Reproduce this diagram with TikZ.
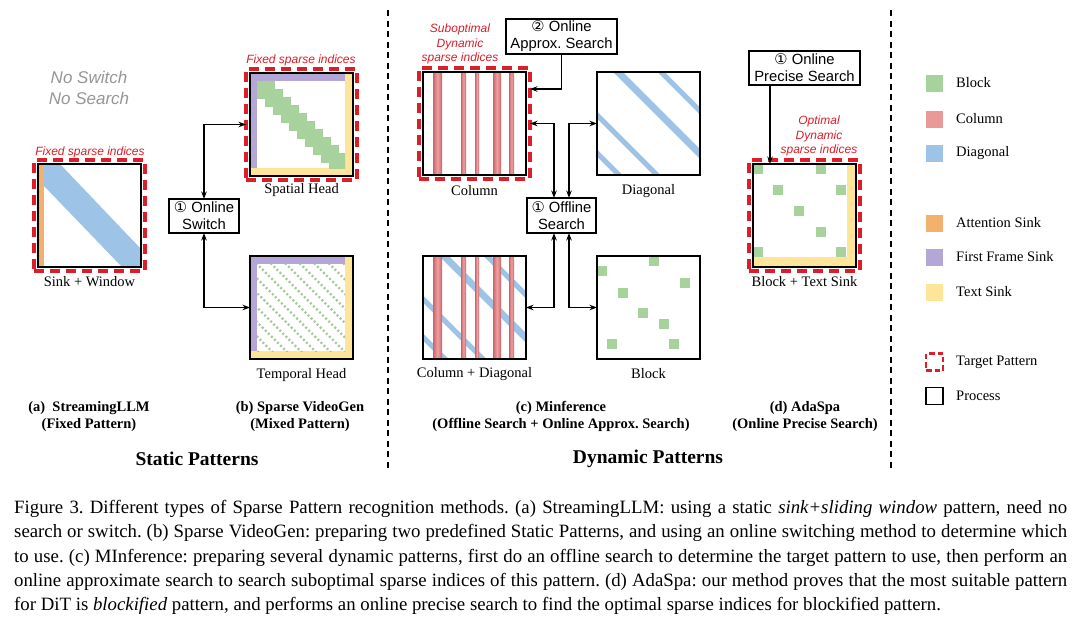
\documentclass[tikz,border=0pt]{standalone}
\usepackage{fontspec}
\setmainfont{Liberation Serif}
\setsansfont{Liberation Sans}
\newfontfamily\djv{DejaVu Sans}
\usetikzlibrary{arrows.meta,fit,calc}
\frenchspacing
\definecolor{cgreen}{RGB}{168,210,155}
\definecolor{cpink}{RGB}{234,153,153}
\definecolor{cdark}{RGB}{205,100,105}
\definecolor{clight}{RGB}{238,160,162}
\definecolor{cblue}{RGB}{157,195,230}
\definecolor{corange}{RGB}{244,177,110}
\definecolor{cpurple}{RGB}{180,167,214}
\definecolor{cyellow}{RGB}{255,229,153}
\definecolor{tred}{RGB}{220,30,40}
\definecolor{tgray}{RGB}{150,150,150}
\newcommand\ColBars{%
  \foreach \a/\b in {10/19,38/43,52/56,70/78,86/91}{%
    \shade[left color=cdark,right color=cdark,middle color=clight] (\a,0) rectangle (\b,103);}}
\newcommand\DiagBands{%
  \draw[cblue,line width=7pt] (1,-20) -- (131,110);
  \draw[cblue,line width=5pt] (44,-20) -- (174,110);
  \draw[cblue,line width=5pt] (-20,23) -- (110,153);
  \draw[cblue,line width=5pt] (-20,61) -- (110,191);}
\newcommand\SinkStrips{%
  \fill[cpurple] (0,0) rectangle (95,8);
  \fill[cpurple] (0,0) rectangle (7,95);
  \fill[cyellow] (95,0) rectangle (103,103);
  \fill[cyellow] (0,95) rectangle (103,103);}
\begin{document}
\begin{tikzpicture}[x=1pt,y=-1pt,
  mat/.style={draw=black,line width=1.3pt,minimum width=103pt,minimum height=103pt,inner sep=0pt,outer sep=0pt},
  target/.style={draw=tred,line width=3.8pt,dash pattern=on 10pt off 6pt,inner sep=4pt,outer sep=0pt},
  proc/.style={draw=black,line width=1.1pt,align=center,inner sep=0pt,outer sep=0pt,font=\sffamily\fontsize{14.8}{17}\selectfont},
  lbl/.style={font=\fontsize{14.5}{17}\selectfont,inner sep=0pt},
  rlbl/.style={text=tred,font=\sffamily\itshape\fontsize{12}{14.8}\selectfont,align=center,inner sep=0pt},
  blbl/.style={font=\bfseries\fontsize{14.5}{17.5}\selectfont,align=center,inner sep=0pt},
  hlbl/.style={font=\bfseries\fontsize{19.5}{22}\selectfont,inner sep=0pt},
  arr/.style={line width=1.3pt,-{Stealth[length=7.5pt,width=5.5pt]}},
  darr/.style={line width=1.3pt,{Stealth[length=7.5pt,width=5.5pt]}-{Stealth[length=7.5pt,width=5.5pt]}},
  swatch/.style={minimum width=17pt,minimum height=17pt,inner sep=0pt,outer sep=0pt},
  divider/.style={line width=1.6pt,dash pattern=on 6pt off 4.5pt},
  capline/.style={font=\fontsize{18.8}{24}\selectfont,inner sep=0pt,anchor=base west}
]
\fill[white] (0,0) rectangle (1080,624);
\useasboundingbox (0,0) rectangle (1080,624);

% ---------- (a) Sink + Window ----------
\node[font=\sffamily\itshape\fontsize{17}{21}\selectfont,text=tgray,align=center,inner sep=0pt] (nosw) at (89,87.5) {No Switch\\No Search};
\begin{scope}[shift={(38,164)}]
  \clip (0,0) rectangle (103,103);
  \fill[corange] (0,0) rectangle (6,103);
  \fill[cblue] (6,0) -- (22,0) -- (103,85) -- (103,103) -- (84,103) -- (6,22) -- cycle;
\end{scope}
\node[mat] (sw) at (89.5,215.5) {};
\node[target,fit=(sw)] (swT) {};
\node[rlbl] (swR) at (90,152) {Fixed sparse indices};
\node[lbl] (swL) at (89.5,282) {Sink + Window};

% ---------- (b) Sparse VideoGen ----------
\begin{scope}[shift={(250,73)}]
  \clip (0,0) rectangle (103,103);
  \SinkStrips
  \begin{scope}
    \clip (7,8) rectangle (95,95);
    \foreach \i in {0,...,10}{\fill[cgreen] (7+8*\i,8+8*\i) rectangle ++(18,18);}
  \end{scope}
\end{scope}
\node[mat] (sh) at (301.5,124.5) {};
\node[target,fit=(sh)] (shT) {};
\node[rlbl] (shR) at (301,60) {Fixed sparse indices};
\node[lbl] (shL) at (301.5,190) {Spatial Head};

\begin{scope}[shift={(250,256)}]
  \clip (0,0) rectangle (103,103);
  \SinkStrips
  \begin{scope}
    \clip (7,8) rectangle (95,95);
    \foreach \k in {-6,...,6}{\draw[cgreen!90!gray,line width=2.2pt,dash pattern=on 2pt off 2.3pt] (7+14.5*\k-10,-2) -- ++(120,120);}
  \end{scope}
\end{scope}
\node[mat] (th) at (301.5,307.5) {};
\node[lbl] (thL) at (301.5,375) {Temporal Head};

\node[proc,minimum width=70pt,minimum height=34pt] (swb) at (204,216) {{\djv ①} Online\\Switch};
\draw[darr] (swb.north) |- (shT.west);
\draw[darr] (swb.south) |- (th.west);

% ---------- (c) MInference ----------
\begin{scope}[shift={(423,72)}]
  \clip (0,0) rectangle (103,103);
  \ColBars
\end{scope}
\node[mat] (col) at (474.5,123.5) {};
\node[target,fit=(col)] (colT) {};
\node[rlbl] (colR) at (460,44) {Suboptimal\\Dynamic\\sparse indices};
\node[lbl] (colL) at (474.5,191) {Column};

\begin{scope}[shift={(597,72)}]
  \clip (0,0) rectangle (103,103);
  \DiagBands
\end{scope}
\node[mat] (dia) at (648.5,123.5) {};
\node[lbl] (diaL) at (648.5,191) {Diagonal};

\begin{scope}[shift={(423,256)}]
  \clip (0,0) rectangle (103,103);
  \DiagBands
  \ColBars
\end{scope}
\node[mat] (cd) at (474.5,307.5) {};
\node[lbl] (cdL) at (474.5,374) {Column + Diagonal};

\begin{scope}[shift={(597,256)}]
  \clip (0,0) rectangle (103,103);
  \foreach \x/\y in {0/10,52/0,83/22,21/32,41/52,62/63,10/83,72/83}{\fill[cgreen] (\x,\y) rectangle ++(10,10);}
\end{scope}
\node[mat] (blk) at (648.5,307.5) {};
\node[lbl] (blkL) at (648.5,374) {Block};

\node[proc,minimum width=111pt,minimum height=35pt] (appr) at (561.5,36.5) {{\djv ②} Online\\Approx. Search};
\node[proc,minimum width=69pt,minimum height=35pt] (off) at (561.5,215.5) {{\djv ①} Offline\\Search};
\draw[arr] (appr.south) |- ([yshift=34.5pt]colT.east);
\draw[darr] ([xshift=-7.5pt]off.north) |- (colT.east);
\draw[darr] ([xshift=7.5pt]off.north) |- (dia.west);
\draw[darr] ([xshift=-7.5pt]off.south) |- (cd.east);
\draw[darr] ([xshift=7.5pt]off.south) |- (blk.west);

% ---------- (d) AdaSpa ----------
\begin{scope}[shift={(753,164)}]
  \clip (0,0) rectangle (103,103);
  \fill[cyellow] (94,0) rectangle (103,103);
  \fill[cyellow] (0,93) rectangle (103,103);
  \foreach \x/\y in {0/0,63/0,20/21,83/21,41/42,63/63,0/83,83/83}{\fill[cgreen] (\x,\y) rectangle ++(10,10);}
\end{scope}
\node[mat] (ada) at (804.5,215.5) {};
\node[target,fit=(ada)] (adaT) {};
\node[rlbl] (adaR) at (819,136) {Optimal\\Dynamic\\sparse indices};
\node[lbl] (adaL) at (804.5,282) {Block + Text Sink};
\node[proc,minimum width=111pt,minimum height=34pt] (prec) at (804.5,68) {{\djv ①} Online\\Precise Search};
\coordinate (pa) at ([xshift=-34.5pt]prec.south);
\draw[arr] (pa) -- (pa |- ada.north);

% ---------- dividers ----------
\draw[divider] (388,10) -- (388,470);
\draw[divider] (891,10) -- (891,470);

% ---------- legend ----------
\node[swatch,fill=cgreen] (lg1) at (934.5,83) {};
\node[lbl,anchor=west] (lt1) at (956,83) {Block};
\node[swatch,fill=cpink] (lg2) at (934.5,119) {};
\node[lbl,anchor=west] (lt2) at (956,119) {Column};
\node[swatch,fill=cblue] (lg3) at (934.5,153) {};
\node[lbl,anchor=west] (lt3) at (956,153) {Diagonal};
\node[swatch,fill=corange] (lg4) at (934.5,223) {};
\node[lbl,anchor=west] (lt4) at (956,223) {Attention Sink};
\node[swatch,fill=cpurple] (lg5) at (934.5,257) {};
\node[lbl,anchor=west] (lt5) at (956,257) {First Frame Sink};
\node[swatch,fill=cyellow] (lg6) at (934.5,292) {};
\node[lbl,anchor=west] (lt6) at (956,292) {Text Sink};
\node[swatch,draw=tred,line width=2.4pt,dash pattern=on 5.5pt off 3pt] (lg7) at (934.5,362) {};
\node[lbl,anchor=west] (lt7) at (956,362) {Target Pattern};
\node[swatch,draw=black,line width=1.2pt] (lg8) at (934.5,396) {};
\node[lbl,anchor=west] (lt8) at (956,396) {Process};

% ---------- sub captions ----------
\node[blbl] (capa) at (89,416.5) {(a)\ \ StreamingLLM\\(Fixed Pattern)};
\node[blbl] (capb) at (300,416.5) {(b) Sparse VideoGen\\(Mixed Pattern)};
\node[blbl] (capc) at (561,416.5) {(c) Minference\\(Offline Search + Online Approx. Search)};
\node[blbl] (capd) at (805,416.5) {(d) AdaSpa\\(Online Precise Search)};
\node[hlbl] (stat) at (197,459) {Static Patterns};
\node[hlbl] (dyn) at (648,459) {Dynamic Patterns};

% ---------- figure caption ----------
\node[capline] (c1) at (14,513.5) {\makebox[1053pt][s]{Figure 3. Different types of Sparse Pattern recognition methods. (a) StreamingLLM: using a static \textit{sink+sliding window} pattern, need no}};
\node[capline] (c2) at (14,537.8) {\makebox[1053pt][s]{search or switch. (b) Sparse VideoGen: preparing two predefined Static Patterns, and using an online switching method to determine which}};
\node[capline] (c3) at (14,562.1) {\makebox[1053pt][s]{to use. (c) MInference: preparing several dynamic patterns, first do an offline search to determine the target pattern to use, then perform an}};
\node[capline] (c4) at (14,586.4) {\makebox[1053pt][s]{online approximate search to search suboptimal sparse indices of this pattern. (d) AdaSpa: our method proves that the most suitable pattern}};
\node[capline] (c5) at (14,610.7) {for DiT is \textit{blockified} pattern, and performs an online precise search to find the optimal sparse indices for blockified pattern.};
\end{tikzpicture}
\end{document}
